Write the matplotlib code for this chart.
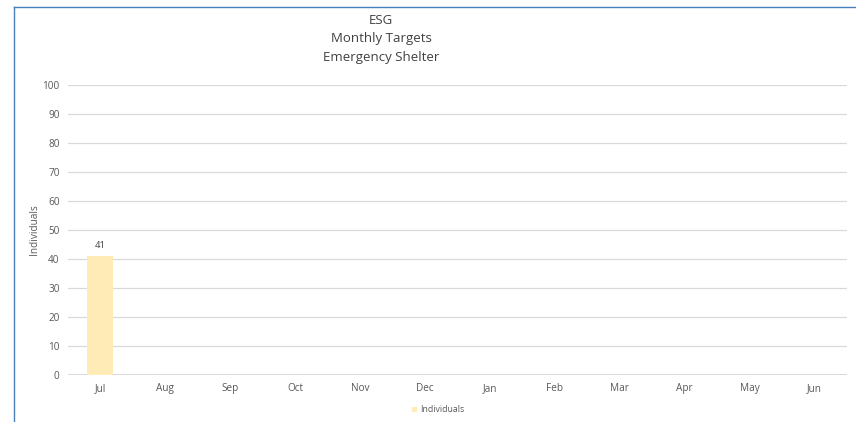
import matplotlib
matplotlib.use("Agg")
import matplotlib.pyplot as plt
from matplotlib.lines import Line2D

months = ["Jul", "Aug", "Sep", "Oct", "Nov", "Dec", "Jan", "Feb", "Mar", "Apr", "May", "Jun"]
individuals = [41, None, None, None, None, None, None, None, None, None, None, None]
yticks = [0, 10, 20, 30, 40, 50, 60, 70, 80, 90, 100]
title_lines = ["ESG", "Monthly Targets", "Emergency Shelter"]
series_name = "Individuals"

plt.rcParams['font.family'] = ['Open Sans', 'DejaVu Sans']

W, H = 856, 422
fig = plt.figure(figsize=(W/100, H/100), dpi=100)
fig.patch.set_facecolor("white")

# plot area in pixels
left, right, top, bottom = 68, 847, 85, 375
ax = fig.add_axes([left/W, 1 - bottom/H, (right-left)/W, (bottom-top)/H])

bar_color = "#FEEBB5"
xs = list(range(len(months)))
vals = [v if v is not None else 0 for v in individuals]
ax.bar(xs, vals, width=0.4, color=bar_color, zorder=3)
for x, v in zip(xs, individuals):
    if v is not None:
        ax.text(x, v + 2.2, str(v), ha="center", va="bottom", fontsize=6.8, color="#404040")

ax.set_xlim(-0.5, len(months) - 0.5)
ax.set_ylim(0, 100)
ax.set_yticks(yticks)
ax.set_xticks(xs)
ax.set_xticklabels(months)
ax.tick_params(axis="both", length=0, labelsize=7.2, labelcolor="#595959")
ax.tick_params(axis="y", pad=6)
ax.tick_params(axis="x", pad=6)
for s in ax.spines.values():
    s.set_visible(False)
ax.grid(axis="y", color="#D9D9D9", linewidth=0.9, zorder=0)
ax.axhline(0, color="#D9D9D9", linewidth=1.4, zorder=2)
ax.set_ylabel("Individuals", fontsize=7.2, color="#595959")
ax.yaxis.set_label_coords((40 - left) / (right - left), 0.5)

# title
for i, t in enumerate(title_lines):
    fig.text(381/W, 1 - (20 + i*18.5)/H, t, ha="center", va="center", fontsize=9.5, color="#404040")

# legend
fig.patches.append(plt.Rectangle((412/W, 1 - 412/H), 5/W, 5/H, transform=fig.transFigure,
                                 facecolor=bar_color, edgecolor="none"))
fig.text(420/W, 1 - 409.5/H, series_name, ha="left", va="center", fontsize=6.3, color="#595959")

# border (top and left)
border = "#4A7EBB"
fig.add_artist(Line2D([14/W, 1], [1 - 7/H, 1 - 7/H], transform=fig.transFigure, color=border, linewidth=1))
fig.add_artist(Line2D([14/W, 14/W], [0, 1 - 7/H], transform=fig.transFigure, color=border, linewidth=1))

fig.savefig("out.png", dpi=100, facecolor="white")
